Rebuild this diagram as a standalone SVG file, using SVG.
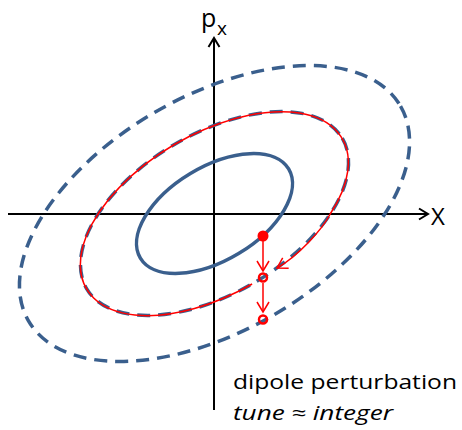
<svg xmlns="http://www.w3.org/2000/svg" width="462" height="430" viewBox="0 0 462 430">
  <defs>
    <style>
      .axis { stroke: #000; stroke-width: 2; fill: none; }
      .orbit { stroke: #3A5F8D; stroke-width: 3.5; fill: none; }
      .dash { stroke-dasharray: 13 8; }
      .red { stroke: #FF0000; stroke-width: 1.5; fill: none; }
      .lbl { font-family: "Open Sans", "Liberation Sans", sans-serif; fill: #000; }
    </style>
    <marker id="ahBlack" markerUnits="userSpaceOnUse" markerWidth="14" markerHeight="14" refX="11" refY="7" orient="auto">
      <path d="M2,1.5 L11,7 L2,12.5" fill="none" stroke="#000" stroke-width="2"/>
    </marker>
    <marker id="ahRed" markerUnits="userSpaceOnUse" markerWidth="14" markerHeight="14" refX="11" refY="7" orient="auto">
      <path d="M1,1 L11,7 L1,13" fill="none" stroke="#FF0000" stroke-width="1.5"/>
    </marker>
  </defs>
  <rect width="462" height="430" fill="#fff"/>

  <g id="axes">
    <line class="axis" x1="8" y1="214" x2="428" y2="214" marker-end="url(#ahBlack)"/>
    <line class="axis" x1="214" y1="410" x2="214" y2="38" marker-end="url(#ahBlack)"/>
  </g>

  <g id="orbits">
    <ellipse class="orbit" cx="214.5" cy="213.5" rx="86.5" ry="46.8" transform="rotate(-31 214.5 213.5)"/>
    <ellipse class="orbit dash" cx="214.5" cy="213.5" rx="148.3" ry="79.8" transform="rotate(-30.5 214.5 213.5)"/>
    <ellipse class="orbit dash" cx="214.5" cy="213.5" rx="214.8" ry="117.5" transform="rotate(-30 214.5 213.5)"/>
  </g>

  <g id="connectors">
    <path class="red" d="M252.1,284 A148.3,79.8 -30.5 1 1 330.5,213.5 C322,230 298,256 277,268" marker-end="url(#ahRed)"/>
    <line class="red" x1="263" y1="241" x2="263" y2="271" marker-end="url(#ahRed)"/>
    <line class="red" x1="263" y1="283" x2="263" y2="312" marker-end="url(#ahRed)"/>
  </g>

  <g id="points">
    <circle cx="263" cy="236" r="5.5" fill="#FF0000"/>
    <circle cx="263" cy="277.5" r="4" fill="none" stroke="#FF0000" stroke-width="2.5"/>
    <circle cx="263" cy="319.5" r="4" fill="none" stroke="#FF0000" stroke-width="2.5"/>
  </g>

  <g id="labels">
    <text class="lbl" x="201" y="27" font-size="25">p</text>
    <text class="lbl" x="217" y="35" font-size="19">x</text>
    <text class="lbl" x="431" y="225" font-size="24">X</text>
    <text class="lbl" x="233" y="389" font-size="19.5" textLength="224" lengthAdjust="spacingAndGlyphs">dipole perturbation</text>
    <text class="lbl" x="233" y="420" font-size="19.5" font-style="italic" textLength="160" lengthAdjust="spacingAndGlyphs">tune ≈ integer</text>
  </g>
</svg>
